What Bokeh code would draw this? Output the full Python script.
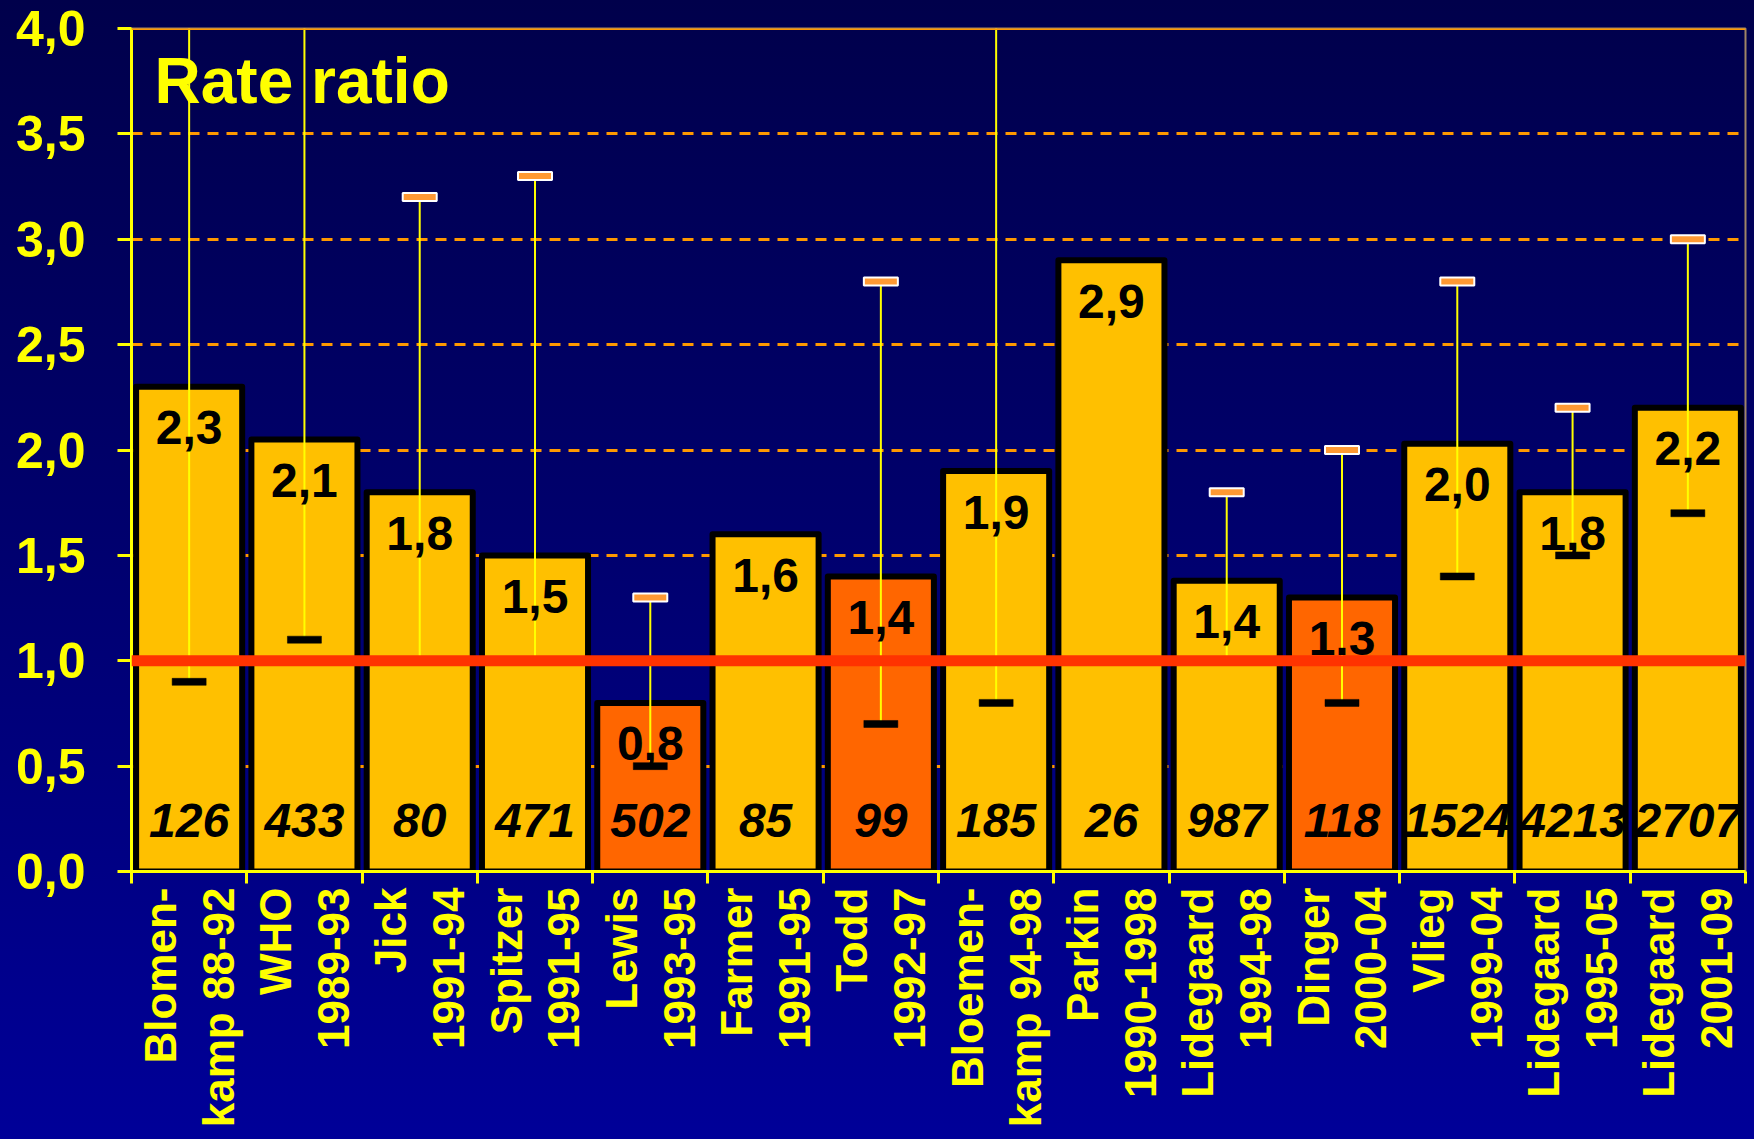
import math
from bokeh.plotting import figure
from bokeh.models import ColumnDataSource, FixedTicker, Range1d, Span, GlobalInlineStyleSheet
from bokeh.transform import factor_cmap
from bokeh.core.properties import value
from bokeh.embed import file_html
from bokeh.resources import INLINE

# ---------------- data ----------------
studies = ["Blomen-\nkamp 88-92", "WHO\n1989-93", "Jick\n1991-94", "Spitzer\n1991-95",
           "Lewis\n1993-95", "Farmer\n1991-95", "Todd\n1992-97", "Bloemen-\nkamp 94-98",
           "Parkin\n1990-1998", "Lidegaard\n1994-98", "Dinger\n2000-04", "Vlieg\n1999-04",
           "Lidegaard\n1995-05", "Lidegaard\n2001-09"]
funding = ["independent", "independent", "independent", "independent",
           "industry", "independent", "industry", "independent",
           "independent", "independent", "industry", "independent",
           "independent", "independent"]
rate_ratio = [2.3, 2.05, 1.8, 1.5, 0.8, 1.6, 1.4, 1.9, 2.9, 1.38, 1.3, 2.03, 1.8, 2.2]
rate_labels = ["2,3", "2,1", "1,8", "1,5", "0,8", "1,6", "1,4", "1,9", "2,9", "1,4",
               "1.3", "2,0", "1,8", "2,2"]
ci_lower = [0.9, 1.1, 1.0, 1.0, 0.5, None, 0.7, 0.8, None, 1.0, 0.8, 1.4, 1.5, 1.7]
ci_upper = [4.6, 4.6, 3.2, 3.3, 1.3, None, 2.8, 4.6, None, 1.8, 2.0, 2.8, 2.2, 3.0]
cases = ["126", "433", "80", "471", "502", "85", "99", "185", "26", "987",
         "118", "1524", "4213", "2707"]
y_ticks = [0.0, 0.5, 1.0, 1.5, 2.0, 2.5, 3.0, 3.5, 4.0]
y_tick_labels = ["0,0", "0,5", "1,0", "1,5", "2,0", "2,5", "3,0", "3,5", "4,0"]
reference_value = 1.0
chart_title = "Rate ratio"

# ---------------- derived ----------------
n = len(studies)
centers = [i + 0.5 for i in range(n)]
bounds = [float(i) for i in range(n + 1)]

bars = ColumnDataSource(dict(x=centers, top=rate_ratio, label=rate_labels,
                             funding=funding, cases=cases))
err_idx = [i for i in range(n) if ci_lower[i] is not None]
errs = ColumnDataSource(dict(x=[centers[i] for i in err_idx],
                             lo=[ci_lower[i] for i in err_idx],
                             hi=[ci_upper[i] for i in err_idx]))

FONT = "Liberation Sans"
YELLOW = "#FFFF00"
Y_MAX = y_ticks[-1]

p = figure(width=1754, height=1139, x_range=Range1d(0, n), y_range=Range1d(0, Y_MAX),
           output_backend="svg", toolbar_location=None,
           min_border_left=131, min_border_right=9, min_border_top=28, min_border_bottom=268,
           border_fill_color=None, background_fill_color=None,
           outline_line_color="#A08466", outline_line_width=2)
p.stylesheets = [GlobalInlineStyleSheet(css=
    "html{min-height:100%;background:linear-gradient(to bottom,#00004b 0%,#00006c 45%,#000098 100%);}"
    "body{background:transparent;}")]

# grid
p.xgrid.visible = False
p.ygrid.ticker = FixedTicker(ticks=[t for t in y_ticks if 0 < t < Y_MAX])
p.ygrid.grid_line_color = "#FF9900"
p.ygrid.grid_line_width = 3
p.ygrid.grid_line_dash = "11 8"

p.add_layout(Span(location=Y_MAX, dimension="width", line_color="#FF9900", line_width=3))

# title inside the plot
p.text(x=[0.2], y=[3.644], text=[chart_title], text_color=YELLOW, y_offset=-23,
       text_font=value(FONT), text_font_style="bold", text_font_size="64px",
       text_baseline="alphabetic", text_align="left")

# bars
p.vbar(x="x", top="top", bottom=0, width=0.92, source=bars,
       fill_color=factor_cmap("funding", ["#FFC000", "#FF6600"], ["independent", "industry"]),
       line_color="black", line_width=6, line_join="round")

# confidence intervals
p.segment(x0="x", y0="lo", x1="x", y1="hi", source=errs, line_color=YELLOW, line_width=2)
p.rect(x="x", y="hi", width=34, height=8, width_units="screen", height_units="screen",
       source=errs, fill_color="#FF9933", line_color="white", line_width=2)
p.rect(x="x", y="lo", width=34, height=7, width_units="screen", height_units="screen",
       source=errs, fill_color="black", line_color="black", line_width=0.5)

# labels
p.text(x="x", y="top", text="label", source=bars, y_offset=41,
       text_font=value(FONT), text_font_style="bold", text_font_size="48px",
       text_color="black", text_align="center", text_baseline="alphabetic")
p.text(x="x", y=0, text="cases", source=bars, y_offset=-51,
       text_font=value(FONT), text_font_style="bold italic", text_font_size="48px",
       text_color="black", text_align="center", text_baseline="alphabetic")

# reference line
p.add_layout(Span(location=reference_value, dimension="width", line_color="#FF3300",
                  line_width=11, level="annotation"))

# axes
xa = p.xaxis[0]
xa.ticker = FixedTicker(ticks=centers, minor_ticks=bounds)
xa.major_label_overrides = {c: s for c, s in zip(centers, studies)}
xa.major_label_orientation = math.pi / 2
xa.major_tick_out = 0
xa.major_tick_in = 0
xa.minor_tick_out = 12
xa.minor_tick_in = 0
xa.minor_tick_line_color = YELLOW
xa.minor_tick_line_width = 3
xa.axis_line_color = YELLOW
xa.axis_line_width = 3
xa.major_label_standoff = 4
xa.major_label_text_font = FONT
xa.major_label_text_font_style = "bold"
xa.major_label_text_font_size = "44px"
xa.major_label_text_color = YELLOW
xa.major_label_text_align = "center"
xa.major_label_text_line_height = 1.18

ya = p.yaxis[0]
ya.ticker = FixedTicker(ticks=y_ticks)
ya.major_label_overrides = {t: s for t, s in zip(y_ticks, y_tick_labels)}
ya.major_tick_out = 14
ya.major_tick_in = 0
ya.major_tick_line_color = YELLOW
ya.major_tick_line_width = 3
ya.minor_tick_line_color = None
ya.axis_line_color = YELLOW
ya.axis_line_width = 3
ya.major_label_standoff = 32
ya.major_label_text_font = FONT
ya.major_label_text_font_style = "bold"
ya.major_label_text_font_size = "50px"
ya.major_label_text_color = YELLOW

open("out.html", "w").write(file_html(p, INLINE))
